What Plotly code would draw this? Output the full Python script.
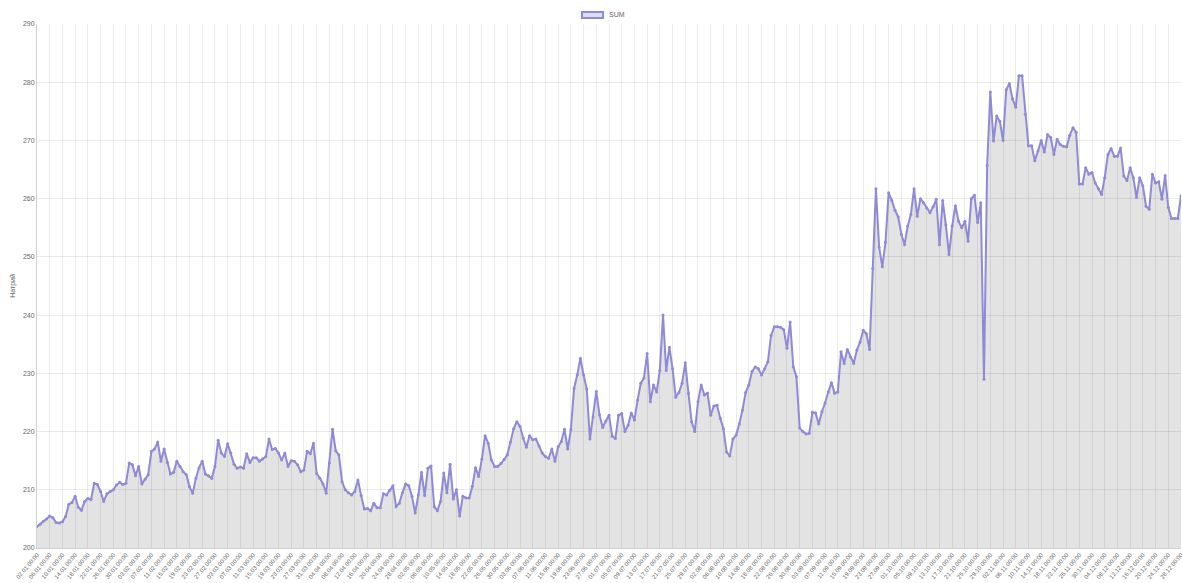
import pandas as pd
import plotly.graph_objects as go

dates = pd.date_range("2019-01-02", "2019-12-28", freq="D")
labels = [d.strftime("%d.%m %H:%M") for d in dates]

sum_values = [
    203.7, 204.1, 204.6, 205.0, 205.5, 205.2, 204.4, 204.3, 204.5, 205.4,
    207.5, 207.8, 208.9, 207.0, 206.5, 208.0, 208.5, 208.3, 211.1, 210.9,
    209.7, 208.0, 209.3, 209.7, 210.0, 210.8, 211.3, 210.9, 211.1, 214.6,
    214.3, 212.4, 214.0, 211.0, 211.8, 212.6, 216.6, 217.0, 218.2, 214.9,
    217.0, 214.7, 212.7, 213.0, 214.9, 214.0, 213.1, 212.6, 210.5, 209.4,
    212.0, 213.8, 214.9, 212.7, 212.4, 212.0, 214.0, 218.5, 216.3, 215.7,
    217.9, 216.3, 214.4, 213.7, 213.9, 213.7, 216.2, 214.7, 215.5, 215.5,
    214.9, 215.3, 215.7, 218.7, 216.9, 217.1, 216.3, 215.1, 216.3, 214.0,
    215.0, 214.9, 214.3, 213.1, 213.4, 216.6, 216.2, 218.0, 212.8, 212.0,
    211.0, 209.4, 214.6, 220.4, 216.7, 216.0, 211.4, 210.0, 209.5, 209.1,
    209.7, 211.7, 209.0, 206.7, 206.8, 206.4, 207.7, 206.9, 206.9, 209.3,
    209.1, 209.9, 210.7, 207.1, 207.7, 209.5, 211.0, 210.7, 208.9, 206.0,
    209.1, 213.0, 209.0, 213.7, 214.1, 207.1, 206.4, 208.0, 212.9, 209.5,
    214.4, 208.4, 210.0, 205.5, 208.9, 208.6, 208.6, 210.6, 213.8, 212.3,
    215.3, 219.3, 218.0, 215.1, 214.0, 214.0, 214.5, 215.2, 216.0, 218.2,
    220.5, 221.7, 220.9, 218.9, 217.3, 219.3, 218.6, 218.7, 217.5, 216.3,
    215.7, 215.4, 217.0, 214.9, 217.4, 218.3, 220.4, 217.0, 220.3, 227.4,
    229.7, 232.6, 229.7, 227.3, 218.7, 222.5, 226.9, 222.9, 220.7, 221.8,
    222.8, 219.2, 218.8, 222.8, 223.1, 220.0, 221.1, 223.2, 222.0, 225.4,
    228.3, 229.2, 233.4, 225.1, 228.0, 226.8, 230.5, 240.0, 230.5, 234.5,
    230.8, 225.9, 226.7, 228.3, 231.8, 226.6, 221.7, 220.0, 225.1, 228.0,
    226.3, 226.6, 222.8, 224.4, 224.5, 222.3, 220.5, 216.5, 215.8, 218.7,
    219.4, 221.3, 223.7, 226.7, 228.0, 230.3, 231.1, 230.8, 229.7, 230.8,
    232.0, 236.5, 238.0, 238.0, 237.9, 237.5, 234.3, 238.8, 231.1, 229.4,
    220.6, 220.0, 219.6, 219.7, 223.3, 223.2, 221.3, 223.4, 224.9, 226.8,
    228.4, 226.6, 226.8, 233.7, 231.7, 234.1, 232.8, 231.7, 234.0, 235.4,
    237.4, 236.8, 234.1, 248.0, 261.7, 251.7, 248.3, 252.5, 261.0, 259.7,
    258.0, 256.9, 253.9, 252.1, 255.3, 257.3, 261.7, 257.0, 260.0, 259.3,
    258.4, 257.6, 258.6, 259.9, 252.1, 259.7, 255.5, 250.4, 255.3, 258.8,
    256.1, 255.0, 256.1, 252.7, 260.0, 260.6, 255.9, 259.3, 229.0, 265.7,
    278.3, 269.9, 274.2, 273.3, 270.0, 278.7, 279.8, 277.1, 275.7, 281.1,
    281.1, 274.5, 269.1, 269.1, 266.5, 268.2, 270.0, 268.0, 271.0, 270.5,
    267.6, 270.2, 269.3, 269.0, 268.9, 270.9, 272.2, 271.4, 262.5, 262.5,
    265.3, 264.2, 264.5, 262.7, 261.7, 260.7, 263.6, 267.6, 268.6, 267.3,
    267.3, 268.7, 263.9, 263.1, 265.3, 263.6, 260.2, 263.6, 262.2, 258.7,
    258.2, 264.2, 262.7, 262.9, 259.9, 264.0, 258.5, 256.6, 256.6, 256.6,
    260.5,
]

y_ticks = [200, 210, 220, 230, 240, 250, 260, 270, 280, 290]
x_tick_labels = labels[::4]
series_name = "SUM"
y_title = "Натрий"

line_color = "#8f8ad6"
font_family = "Liberation Sans, Arial, sans-serif"

fig = go.Figure()
fig.add_trace(go.Scatter(
    x=labels, y=sum_values, name=series_name, mode="lines+markers",
    line=dict(color=line_color, width=2),
    marker=dict(color=line_color, size=3),
    fill="tozeroy", fillcolor="rgba(0,0,0,0.11)",
    showlegend=False,
))

# legend drawn as a box + label above the plot area (Chart.js style)
fig.add_shape(type="rect", xref="paper", yref="paper",
              x0=0.4764, x1=0.4948, y0=1.0115, y1=1.0229,
              line=dict(color=line_color, width=2),
              fillcolor="rgba(200,198,235,0.6)")
fig.add_annotation(text=series_name, xref="paper", yref="paper",
                   x=0.4985, y=1.0172, xanchor="left", yanchor="middle",
                   showarrow=False, font=dict(size=7, color="#666666"))

fig.update_layout(
    width=1182, height=583,
    margin=dict(l=37, r=1, t=24, b=35),
    paper_bgcolor="white", plot_bgcolor="white",
    font=dict(family=font_family, size=8, color="#666666"),
    showlegend=False,
    xaxis=dict(
        type="category", range=[0, len(labels) - 1],
        tickmode="array", tickvals=x_tick_labels, ticktext=x_tick_labels,
        tickangle=-50, tickfont=dict(size=6, color="#666666"),
        showgrid=True, gridcolor="rgba(0,0,0,0.08)", gridwidth=1,
        showline=True, linecolor="#d0d0d0", linewidth=1,
        ticks="", automargin=False,
    ),
    yaxis=dict(
        range=[200, 290], tickmode="array", tickvals=y_ticks,
        tickfont=dict(size=7, color="#666666"),
        showgrid=True, gridcolor="rgba(0,0,0,0.08)", gridwidth=1,
        showline=True, linecolor="#d0d0d0", linewidth=1,
        zeroline=False, ticks="", automargin=False,
        title=dict(text=y_title, font=dict(size=7, color="#666666"), standoff=6),
    ),
)

fig.write_html("out.html", config={"displayModeBar": False},
               post_script="document.body.style.margin='0';document.body.style.overflow='hidden';")
